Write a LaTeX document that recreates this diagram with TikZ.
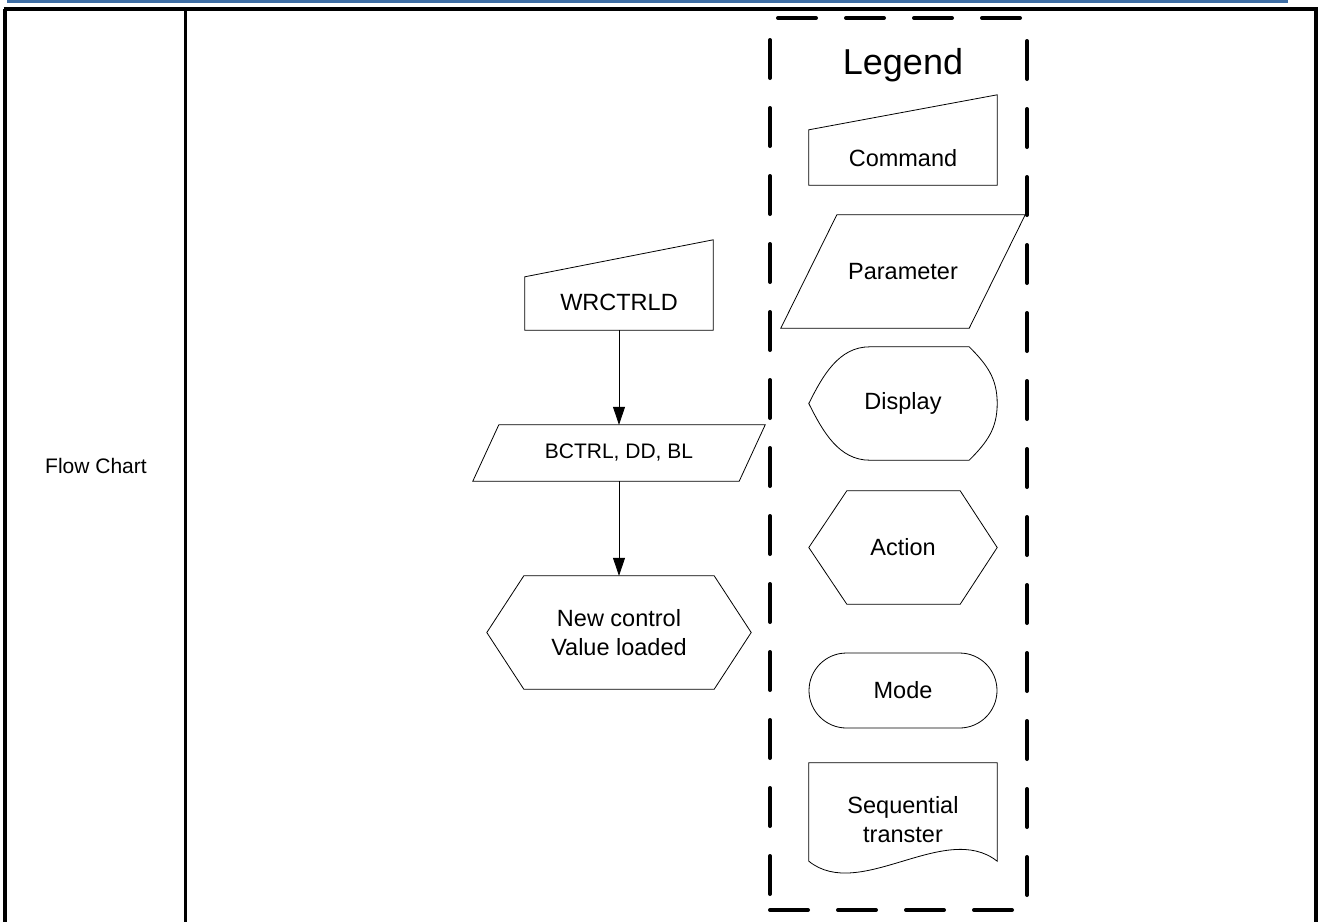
\documentclass[tikz,border=0pt]{standalone}
\usepackage{fontspec}
\setmainfont{Liberation Sans}
\usetikzlibrary{arrows.meta}
\definecolor{headblue}{RGB}{62,110,165}

\begin{document}
\begin{tikzpicture}[x=1pt,y=-1pt,>={Triangle[length=18pt,width=12pt]},
  lbl/.style={font=\fontsize{23.5}{29}\selectfont,align=center,inner sep=0pt},
  small/.style={font=\fontsize{21}{25}\selectfont,inner sep=0pt},
  frame/.style={inner sep=0pt,minimum width=188pt},
  outline/.style={draw,line width=0.8pt}]
\useasboundingbox (0,0) rectangle (1322,922);

% page head and table
\draw[headblue,line width=3pt] (7,1.5) -- (1288,1.5);
\draw[line width=3.5pt] (3.5,9) -- (1318,9);
\draw[line width=4pt] (5.3,9) -- (5.3,922);
\draw[line width=2.5pt] (185.5,9) -- (185.5,922);
\draw[line width=4.5pt] (1315.8,9) -- (1315.8,922);
\node[small] (fc) at (96,466) {Flow Chart};

% flow chart
\node[frame,minimum height=90pt] (wr) at (619,285) {};
\node[lbl] (wrtxt) at (619,302) {WRCTRLD};
\draw[outline] (wr.south west) -- (wr.south east) -- (wr.north east) -- ([yshift=-37pt]wr.north west) -- cycle;

\node[small,minimum width=292pt,minimum height=56pt] (bc) at (619,453) {BCTRL, DD, BL};
\draw[outline] (bc.south west) -- ([xshift=-26pt]bc.south east) -- (bc.north east) -- ([xshift=26pt]bc.north west) -- cycle;

\node[lbl,minimum width=264pt,minimum height=113pt] (nv) at (619,632.5) {New control\\Value loaded};
\draw[outline] (nv.west) -- ([xshift=37pt]nv.north west) -- ([xshift=-37pt]nv.north east) -- (nv.east) -- ([xshift=-37pt]nv.south east) -- ([xshift=37pt]nv.south west) -- cycle;

\draw[->,line width=0.8pt] (wr) -- (bc);
\draw[->,line width=0.8pt] (bc) -- (nv);

% legend
\node[draw,line width=4pt,dash pattern=on 38pt off 30pt,line cap=round,minimum width=257pt,minimum height=892pt] (lg) at (898.5,464) {};
\node[font=\fontsize{36}{40}\selectfont] (lgtitle) at (903,65) {Legend};

\node[frame,minimum height=90pt] (cm) at (903,140) {};
\node[lbl] (cmtxt) at (903,158) {Command};
\draw[outline] (cm.south west) -- (cm.south east) -- (cm.north east) -- ([yshift=-35pt]cm.north west) -- cycle;

\node[lbl,minimum width=244pt,minimum height=113pt] (pm) at (903,271.5) {Parameter};
\draw[outline] (pm.south west) -- ([xshift=-56pt]pm.south east) -- (pm.north east) -- ([xshift=56pt]pm.north west) -- cycle;

\node[lbl,frame,minimum height=113pt] (dp) at (903,403.5) {};
\node[lbl] (dptxt) at (903,403) {Display};
\draw[outline] (dp.west) .. controls ([xshift=14pt,yshift=28pt]dp.west) and ([xshift=30pt]dp.north west) .. ([xshift=61pt]dp.north west) -- ([xshift=-28pt]dp.north east) .. controls ([xshift=-10pt,yshift=-18pt]dp.north east) and ([yshift=25pt]dp.east) .. (dp.east) .. controls ([yshift=-25pt]dp.east) and ([xshift=-10pt,yshift=18pt]dp.south east) .. ([xshift=-28pt]dp.south east) -- ([xshift=61pt]dp.south west) .. controls ([xshift=30pt]dp.south west) and ([xshift=14pt,yshift=-28pt]dp.west) .. (dp.west);

\node[lbl,frame,minimum height=113pt] (ac) at (903,547.5) {Action};
\draw[outline] (ac.west) -- ([xshift=38pt]ac.north west) -- ([xshift=-37pt]ac.north east) -- (ac.east) -- ([xshift=-37pt]ac.south east) -- ([xshift=38pt]ac.south west) -- cycle;

\node[lbl,frame,minimum height=75pt,outline,rounded corners=37.5pt] (md) at (903,690.5) {Mode};

\node[lbl,frame,minimum height=113pt] (sq) at (903,819.5) {Sequential\\transter};
\draw[outline] (sq.north west) -- (sq.north east) -- ([yshift=15pt]sq.south east) .. controls ([xshift=-52pt,yshift=56pt]sq.south east) and ([xshift=51pt,yshift=-26pt]sq.south west) .. ([yshift=15pt]sq.south west) -- cycle;
\end{tikzpicture}
\end{document}
